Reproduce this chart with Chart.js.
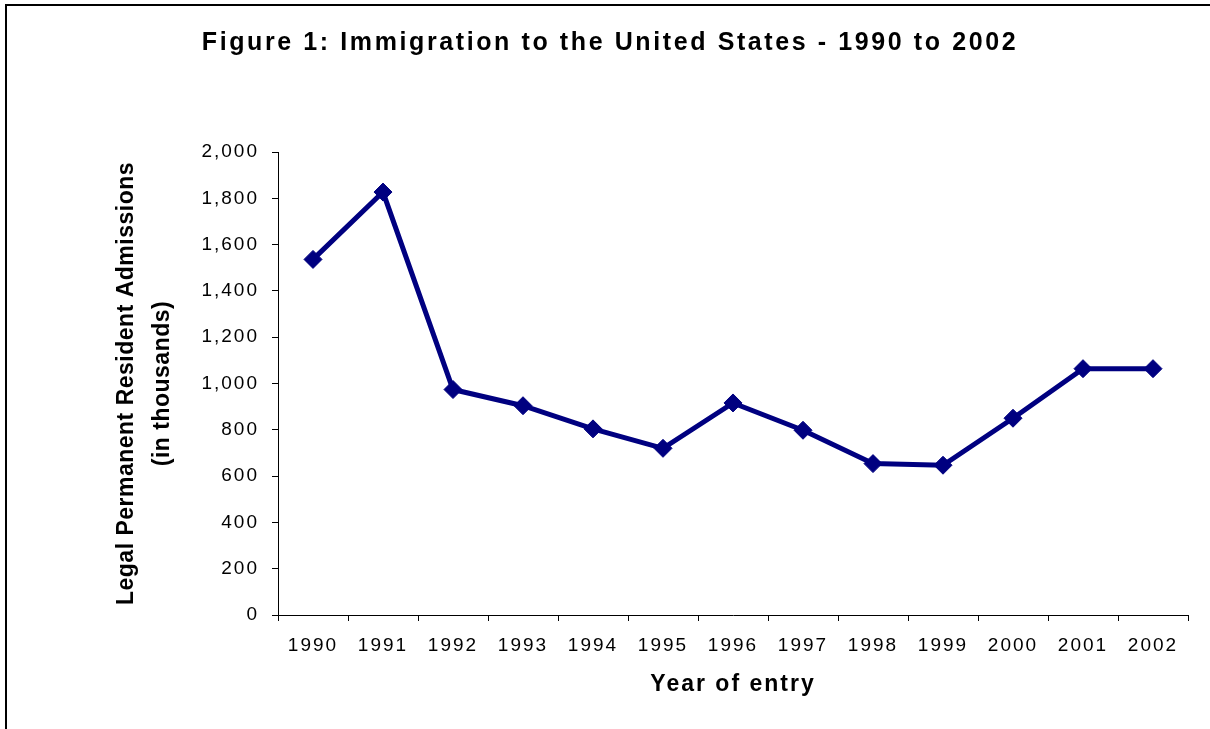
<!DOCTYPE html>
<html>
<head>
<meta charset="utf-8">
<title>Immigration to the United States - 1990 to 2002</title>
<script src="https://cdn.jsdelivr.net/npm/chart.js@4.4.1/dist/chart.umd.min.js"></script>
<style>
	body { margin: 0; background: #fff; }
	#wrap { position: relative; width: 1210px; height: 729px; overflow: hidden; }
	#frame { position: absolute; left: 5px; top: 4px; width: 1300px; height: 800px; border-left: 2px solid #000; border-top: 2px solid #000; }
	canvas { position: absolute; left: 0; top: 0; }
</style>
</head>
<body>
<div id="wrap">
	<div id="frame"></div>
	<canvas id="chart" width="1210" height="729"></canvas>
</div>
<script>
// data (thousands)
const years = ["1990", "1991", "1992", "1993", "1994", "1995", "1996", "1997", "1998", "1999", "2000", "2001", "2002"]
const admissions = [1536, 1827, 974, 904, 804, 720, 916, 798, 654, 647, 850, 1064, 1064]

const titleText = "Figure 1: Immigration to the United States - 1990 to 2002"
const yTitle = ["Legal Permanent Resident Admissions", "(in thousands)"]
const xTitle = "Year of entry"

const fontFamily = "Arial, 'Liberation Sans', sans-serif"
const navy = "#000080"

// canvas letter spacing, Chart.js has no option for it
const withSpacing = (obj, method, px) => {
	if (!obj || obj["_sp_" + method]) return
	const orig = obj[method].bind(obj)
	obj[method] = function (...args) {
		const ctx = this.ctx
		const prev = ctx.letterSpacing
		ctx.letterSpacing = px
		orig(...args)
		ctx.letterSpacing = prev
	}
	obj["_sp_" + method] = true
}

const spacingPlugin = {
	id: "spacing",
	afterUpdate(chart) {
		withSpacing(chart.scales.y, "drawTitle", "0.5px")
		withSpacing(chart.scales.x, "drawTitle", "2px")
		withSpacing(chart.titleBlock, "draw", "2.6px")
	},
	beforeDraw(chart) {
		chart.ctx.letterSpacing = "2px"
	},
	afterDraw(chart) {
		chart.ctx.letterSpacing = "0px"
	},
}

Chart.defaults.color = "#000"
Chart.defaults.font.family = fontFamily

new Chart(document.querySelector("#chart"), {
	type: "line",
	data: {
		labels: years,
		datasets: [
			{
				label: "Admissions",
				data: admissions,
				borderColor: navy,
				backgroundColor: navy,
				borderWidth: 5,
				pointStyle: "rectRot",
				pointRadius: 9,
				pointBorderWidth: 1,
				tension: 0,
			},
		],
	},
	options: {
		responsive: false,
		devicePixelRatio: 1,
		animation: false,
		layout: {
			padding: { left: 32, right: 22, top: 0, bottom: 0 },
		},
		plugins: {
			legend: { display: false },
			tooltip: { enabled: false },
			title: {
				display: true,
				text: titleText,
				color: "#000",
				font: { size: 25, weight: "bold", lineHeight: 1.2 },
				padding: { top: 28, bottom: 94 },
			},
		},
		scales: {
			x: {
				offset: true,
				grid: {
					offset: true,
					drawOnChartArea: false,
					drawTicks: true,
					tickLength: 6,
					tickColor: "#000",
				},
				border: { display: true, color: "#000", width: 1 },
				ticks: {
					font: { size: 19 },
					padding: 13,
					maxRotation: 0,
					autoSkip: false,
				},
				title: {
					display: true,
					text: xTitle,
					font: { size: 23, weight: "bold", lineHeight: 1.2 },
					padding: { top: 0, bottom: 30.2 },
				},
				afterFit: scale => {
					scale.height = 114
				},
			},
			y: {
				min: 0,
				max: 2000,
				grid: {
					drawOnChartArea: false,
					drawTicks: true,
					tickLength: 6,
					tickColor: "#000",
				},
				border: { display: true, color: "#000", width: 1 },
				ticks: {
					stepSize: 200,
					font: { size: 19 },
					padding: 13,
				},
				title: {
					display: true,
					text: yTitle,
					font: { size: 23, weight: "bold", lineHeight: 1.57 },
					padding: { top: 76.5, bottom: 0 },
				},
				afterFit: scale => {
					scale.width = 246
				},
			},
		},
	},
	plugins: [spacingPlugin],
})
</script>
</body>
</html>
